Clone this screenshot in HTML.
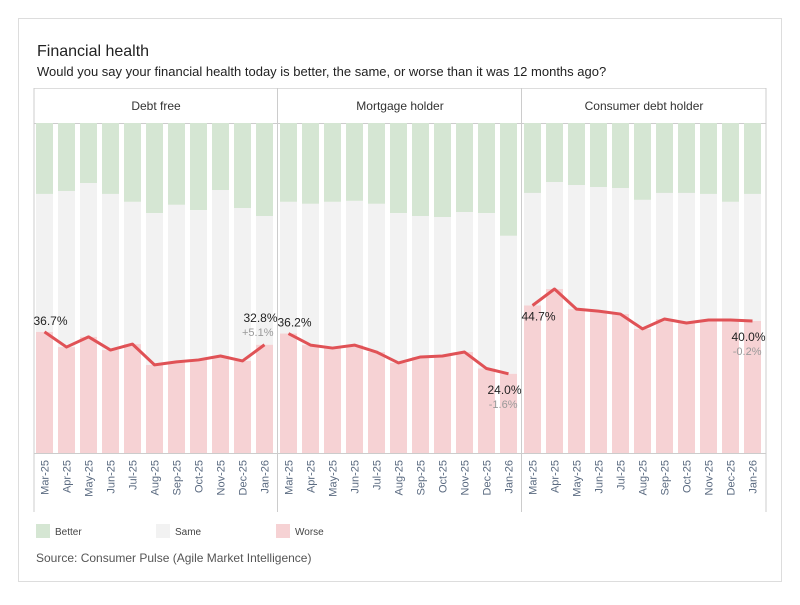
<!DOCTYPE html>
<html><head><meta charset="utf-8"><style>
body{margin:0;background:#fff;font-family:"Liberation Sans",sans-serif}
svg text{font-family:"Liberation Sans",sans-serif}
</style></head><body>
<svg id="c" width="800" height="600">
<rect x="18.5" y="18.5" width="763" height="563" fill="#fff" stroke="#ddd"/>
<text x="37" y="56" font-size="16" fill="#222">Financial health</text>
<text x="37" y="76" font-size="13" fill="#222">Would you say your financial health today is better, the same, or worse than it was 12 months ago?</text>
<g id="g"></g>
<g>
<rect x="36" y="524" width="14" height="14" fill="#d5e6d3"/>
<text x="55" y="535" font-size="10" fill="#444">Better</text>
<rect x="156" y="524" width="14" height="14" fill="#f2f2f2"/>
<text x="175" y="535" font-size="10" fill="#444">Same</text>
<rect x="276" y="524" width="14" height="14" fill="#f6d2d4"/>
<text x="295" y="535" font-size="10" fill="#444">Worse</text>
</g>
<text x="36" y="562" font-size="12" fill="#555">Source: Consumer Pulse (Agile Market Intelligence)</text>
</svg>
<script>
const months=["Mar-25","Apr-25","May-25","Jun-25","Jul-25","Aug-25","Sep-25","Oct-25","Nov-25","Dec-25","Jan-26"];
const panels=["Debt free","Mortgage holder","Consumer debt holder"];
const betterDebtFree=[21.5,20.6,18.2,21.5,23.9,27.3,24.8,26.4,20.3,25.8,28.2];
const worseDebtFree=[36.7,32.1,35.2,31.2,33.0,26.7,27.6,28.2,29.4,27.9,32.8];
const betterMortgage=[23.9,24.5,23.9,23.6,24.5,27.3,28.2,28.5,27.0,27.3,34.2];
const worseMortgage=[36.2,32.7,31.8,32.7,30.6,27.3,29.1,29.4,30.6,25.6,24.0];
const betterConsumer=[21.2,17.9,18.8,19.4,19.7,23.3,21.2,21.2,21.5,23.9,21.5];
const worseConsumer=[44.7,49.7,43.6,43.0,42.1,37.6,40.6,39.4,40.3,40.3,40.0];
const deltas=["+5.1%","-1.6%","-0.2%"];
const better=[betterDebtFree,betterMortgage,betterConsumer];
const worse=[worseDebtFree,worseMortgage,worseConsumer];
const NS="http://www.w3.org/2000/svg";
const g=document.getElementById('g');
const top0=123,bot=453,H=bot-top0;
const y=v=>bot-v/100*H;
const panelX=[34,278,522],panelW=244,step=22,bw=17;
function mk(t,a,p){const e=document.createElementNS(NS,t);for(const k in a)e.setAttribute(k,a[k]);(p||g).appendChild(e);return e;}
// header and frame lines
mk('line',{x1:34,y1:88.5,x2:766,y2:88.5,stroke:'#ddd'});
mk('line',{x1:34,y1:123.5,x2:766,y2:123.5,stroke:'#ccc'});
mk('line',{x1:34,y1:453.5,x2:766,y2:453.5,stroke:'#ccc'});
[34,277.5,521.5,766].forEach(x=>mk('line',{x1:x,y1:88,x2:x,y2:512,stroke:'#ccc'}));
panels.forEach((p,pi)=>{
  const px=panelX[pi];
  const pg=mk('g',{});
  
  
  const ht=mk('text',{x:px+panelW/2,y:110,'font-size':12,fill:'#333','text-anchor':'middle'},pg);
  ht.textContent=p;
  
  
  const pts=[];
  months.forEach((m,i)=>{
    const x=px+2+i*step, b=better[pi][i], w=worse[pi][i];
    const r1=mk('rect',{x:x,y:top0,width:bw,height:b/100*H,fill:'#d5e6d3'},pg);
    
    
    const r2=mk('rect',{x:x,y:y(100-b),width:bw,height:(100-b-w)/100*H,fill:'#f2f2f2'},pg);
    
    
    const r3=mk('rect',{x:x,y:y(w),width:bw,height:w/100*H,fill:'#f6d2d4'},pg);
    
    
    pts.push([x+bw/2,y(w)]);
    const cx=x+bw/2+4;
    const t=mk('text',{x:cx,y:460,'font-size':11,fill:'#5a6a80','text-anchor':'end',transform:`rotate(-90 ${cx} 460)`},pg);
    t.textContent=m;
    
    
  });
  const l=mk('polyline',{points:pts.map(q=>q.join(',')).join(' '),fill:'none',stroke:'#e05256','stroke-width':3,'stroke-linejoin':'round'},pg);
  
  
  const f=pts[0],ls=pts[pts.length-1],n=worse[pi].length-1;
  const fl=mk('text',{x:f[0]-11,y:f[1]+(pi==2?15:-7),'font-size':12,fill:'#222'},pg);
  fl.textContent=worse[pi][0].toFixed(1)+'%';
  
  
  const below=pi>0;
  const ly=below?ls[1]+20:ls[1]-23;
  const lt=mk('text',{x:ls[0]+13,y:ly,'font-size':12,fill:'#222','text-anchor':'end'},pg);
  lt.textContent=worse[pi][n].toFixed(1)+'%';
  
  
  const dt=mk('text',{x:ls[0]+9,y:ly+14,'font-size':11,fill:'#999','text-anchor':'end'},pg);
  dt.textContent=deltas[pi];
  
  
});
</script>
</body></html>
